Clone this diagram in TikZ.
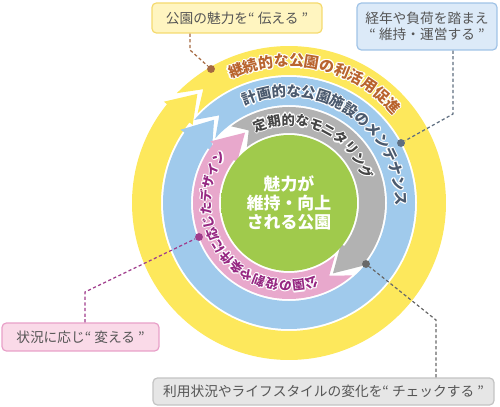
\documentclass[tikz,border=0pt]{standalone}
\usepackage{fontspec}
\newfontfamily\jpfont{Noto Sans CJK JP}
\usetikzlibrary{decorations.text}

\definecolor{ringyellow}{RGB}{253,232,92}
\definecolor{ringblue}{RGB}{160,202,236}
\definecolor{ringgray}{RGB}{178,178,178}
\definecolor{ringpink}{RGB}{232,168,204}
\definecolor{coregreen}{RGB}{160,202,76}
\definecolor{ytext}{RGB}{185,100,45}
\definecolor{btext}{RGB}{75,90,110}
\definecolor{gtext}{RGB}{70,70,70}
\definecolor{ptext}{RGB}{150,40,130}
\definecolor{calltext}{RGB}{85,85,85}
\definecolor{yfill}{RGB}{255,245,192}
\definecolor{yline}{RGB}{245,218,110}
\definecolor{bfill}{RGB}{220,234,248}
\definecolor{bline}{RGB}{160,195,230}
\definecolor{pfill}{RGB}{250,218,232}
\definecolor{pline}{RGB}{232,160,200}
\definecolor{gfill}{RGB}{230,230,230}
\definecolor{gline}{RGB}{195,195,195}
\definecolor{yleader}{RGB}{165,105,65}
\definecolor{bleader}{RGB}{95,110,128}
\definecolor{pleader}{RGB}{160,60,140}
\definecolor{gleader}{RGB}{105,105,105}

\pgfdeclareradialshading{coreglow}{\pgfpoint{0bp}{0bp}}{color(0bp)=(coregreen); color(27bp)=(coregreen); color(48bp)=(white); color(100bp)=(white)}

% ring arrow: colour, inner r, outer r, tail corner, tail notch, head base, head tip, barb
\newcommand\ringarrow[8]{%
    \fill[#1] (#4:#3) arc[start angle=#4, end angle=#6, radius=#3]
        -- (#6:{#3+#8}) -- (#7:{(#2+#3)/2}) -- (#6:{#2-#8})
        -- (#6:#2) arc[start angle=#6, end angle=#4, radius=#2]
        -- (#5:{(#2+#3)/2}) -- cycle;
}

% text on a ring: radius, from, to, size, colour, text
\newcommand\ringtext[6]{%
    \foreach \dx/\dy in {1.1/0,-1.1/0,0/1.1,0/-1.1,0.8/0.8,-0.8/0.8,0.8/-0.8,-0.8/-0.8}{
        \path[shift={(\dx,\dy)}, decorate, decoration={text along path, text align=center,
            text={|\fontsize{#4}{#4}\selectfont\jpfont\bfseries\color{white}|#6}}]
            (#2:#1) arc[start angle=#2, end angle=#3, radius=#1];
    }
    \path[decorate, decoration={text along path, text align=center,
        text={|\fontsize{#4}{#4}\selectfont\jpfont\bfseries\color{#5}|#6}}]
        (#2:#1) arc[start angle=#2, end angle=#3, radius=#1];
}

\begin{document}
\begin{tikzpicture}[x=0.02cm, y=0.02cm,
        callout/.style = {draw,
            rounded corners=2.5pt,
            line width=0.7pt,
            inner sep=0pt,
            align=center,
            text=calltext,
            font=\jpfont\fontsize{7.8}{9}\selectfont
        },
        leader/.style = {line width=0.7pt,
            dash pattern=on 1.8pt off 1.4pt
        },
        pin/.style = {circle,
            inner sep=0pt,
            minimum size=4.5pt
        }]

    \useasboundingbox (0,0) rectangle (500,406);

    \begin{scope}[shift={(289,203)}]
    % Rings
    \ringarrow{ringyellow}{128}{157}{135.6}{127}{-219}{-230}{4}
    \ringarrow{ringblue}{98}{126}{138.8}{128.5}{-214}{-228}{5}
    \ringarrow{ringgray}{70}{96}{127}{119}{-38}{-58}{4}
    \ringarrow{ringpink}{70}{96}{-49}{-61}{-218}{-238}{4}

    % Ring labels
    \ringtext{136.8}{170}{-15}{8.5}{ytext}{継続的な公園の利活用促進}
    \ringtext{106.5}{160}{-47}{8.2}{btext}{計画的な公園施設のメンテナンス}
    \ringtext{78}{160}{-28}{7.6}{gtext}{定期的なモニタリング}
    \ringtext{78.2}{-13.5}{-273.5}{7.2}{ptext}{公園の役割や条件に応じたデザイン}
    \end{scope}

    % Core
    \node[circle, minimum size=2.72cm, shading=coreglow, text=white, align=center,
        font=\jpfont\bfseries\fontsize{9.6}{10.8}\selectfont] (core) at (289,203)
        {魅力が\\維持・向上\\される公園};

    % Callouts
    \node[callout, fill=yfill, draw=yline, minimum width=3.4cm, minimum height=0.6cm]
        (ybox) at (237,388) {公園の魅力を“ 伝える ”};
    \node[callout, fill=bfill, draw=bline, minimum width=2.8cm, minimum height=0.94cm]
        (bbox) at (427,379.5) {経年や負荷を踏まえ\\“ 維持・運営する ”};
    \node[callout, fill=pfill, draw=pline, minimum width=3.14cm, minimum height=0.56cm]
        (pbox) at (80.5,69) {状況に応じ“ 変える ”};
    \node[callout, fill=gfill, draw=gline, minimum width=6.82cm, minimum height=0.54cm]
        (gbox) at (323.5,14.5) {利用状況やライフスタイルの変化を“ チェックする ”};

    % Pins
    \node[pin, fill=yleader] (ydot) at (211,337) {};
    \node[pin, fill=bleader] (bdot) at (401,263) {};
    \node[pin, fill=pleader] (pdot) at (199,169) {};
    \node[pin, fill=gleader] (gdot) at (366,142) {};

    \coordinate (ybend) at (190,356);
    \coordinate (bbend) at (453,292);
    \coordinate (pbend) at (85,114);
    \coordinate (gbend) at (436,86);

    % Leaders
    \draw[leader, draw=yleader] (ybox.south -| ybend) -- (ybend) -- (ydot);
    \draw[leader, draw=bleader] (bbox.south -| bbend) -- (bbend) -- (bdot);
    \draw[leader, draw=pleader] (pbox.north -| pbend) -- (pbend) -- (pdot);
    \draw[leader, draw=gleader] (gbox.north -| gbend) -- (gbend) -- (gdot);

\end{tikzpicture}
\end{document}
